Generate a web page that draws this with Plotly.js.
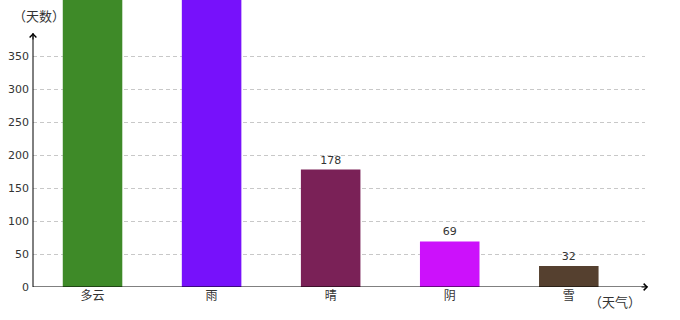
<!DOCTYPE html>
<html>
<head>
<meta charset="utf-8">
<script src="https://cdn.plot.ly/plotly-3.0.1.min.js"></script>
<style>html,body{margin:0;padding:0;background:#fff;}#chart{width:680px;height:320px;}</style>
</head>
<body>
<div id="chart"></div>
<script>
const categories = ['多云', '雨', '晴', '阴', '雪'];
const days = [480, 460, 178, 69, 32];
const colors = ['#3e8a28', '#7711fb', '#7a2157', '#cc11fb', '#55402f'];
const yTicks = [0, 50, 100, 150, 200, 250, 300, 350];
const yMax = 435;

const font = 'DejaVu Sans, "Noto Sans CJK SC", sans-serif';
const cjk = '"Noto Sans CJK SC", sans-serif';

const trace = {
  type: 'bar',
  x: categories,
  y: days,
  marker: {color: colors, line: {width: 0}},
  // labels of bars running past the top of the plot are hidden, as in the reference
  text: days.map(v => (v > yMax ? '' : String(v))),
  textposition: 'outside',
  textfont: {family: font, size: 11, color: '#333'},
  cliponaxis: true,
  hoverinfo: 'none'
};

const layout = {
  width: 680, height: 320,
  margin: {l: 33, r: 35, t: 0, b: 33},
  paper_bgcolor: '#fff', plot_bgcolor: '#fff',
  showlegend: false,
  bargap: 0.5,
  font: {family: font, size: 11, color: '#333'},
  xaxis: {
    type: 'category',
    range: [-0.5, 4.64],
    showgrid: false, zeroline: false, showline: false,
    ticks: '', ticklen: 0,
    tickfont: {family: cjk, size: 12, color: '#333'},
    fixedrange: true
  },
  yaxis: {
    range: [0, yMax],
    tickvals: yTicks,
    ticktext: yTicks.map(String),
    showgrid: true, gridcolor: '#c8c8c8', griddash: '4px,3px', gridwidth: 1,
    zeroline: false, showline: false, ticks: '',
    tickfont: {family: font, size: 11, color: '#333'},
    ticklabelstandoff: 3,
    fixedrange: true
  },
  shapes: [
    {type: 'line', xref: 'paper', yref: 'y', x0: 0, x1: 1.005, y0: 0, y1: 0, line: {color: '#000', width: 1}},
    {type: 'line', xref: 'paper', yref: 'y', x0: 0, x1: 0, y0: 0, y1: 385, line: {color: '#000', width: 1}}
  ],
  annotations: [
    {xref: 'paper', yref: 'y', x: 0, y: 385, ax: 0, ay: 8, axref: 'pixel', ayref: 'pixel',
     showarrow: true, arrowhead: 4, arrowsize: 1.3, arrowwidth: 1, arrowcolor: '#000', text: ''},
    {xref: 'paper', yref: 'y', x: 1.005, y: 0, ax: -8, ay: 0,
     showarrow: true, arrowhead: 4, arrowsize: 1.3, arrowwidth: 1, arrowcolor: '#000', text: ''},
    {xref: 'paper', yref: 'paper', x: -0.036, y: 1.0, xanchor: 'left', yanchor: 'top', yshift: -4,
     text: '（天数）', showarrow: false, font: {family: cjk, size: 13, color: '#333'}},
    {xref: 'paper', yref: 'paper', x: 0.905, y: 0, xanchor: 'left', yanchor: 'top', yshift: -3,
     text: '（天气）', showarrow: false, font: {family: cjk, size: 13, color: '#333'}}
  ]
};

Plotly.newPlot('chart', [trace], layout, {displayModeBar: false, staticPlot: true});
</script>
</body>
</html>
